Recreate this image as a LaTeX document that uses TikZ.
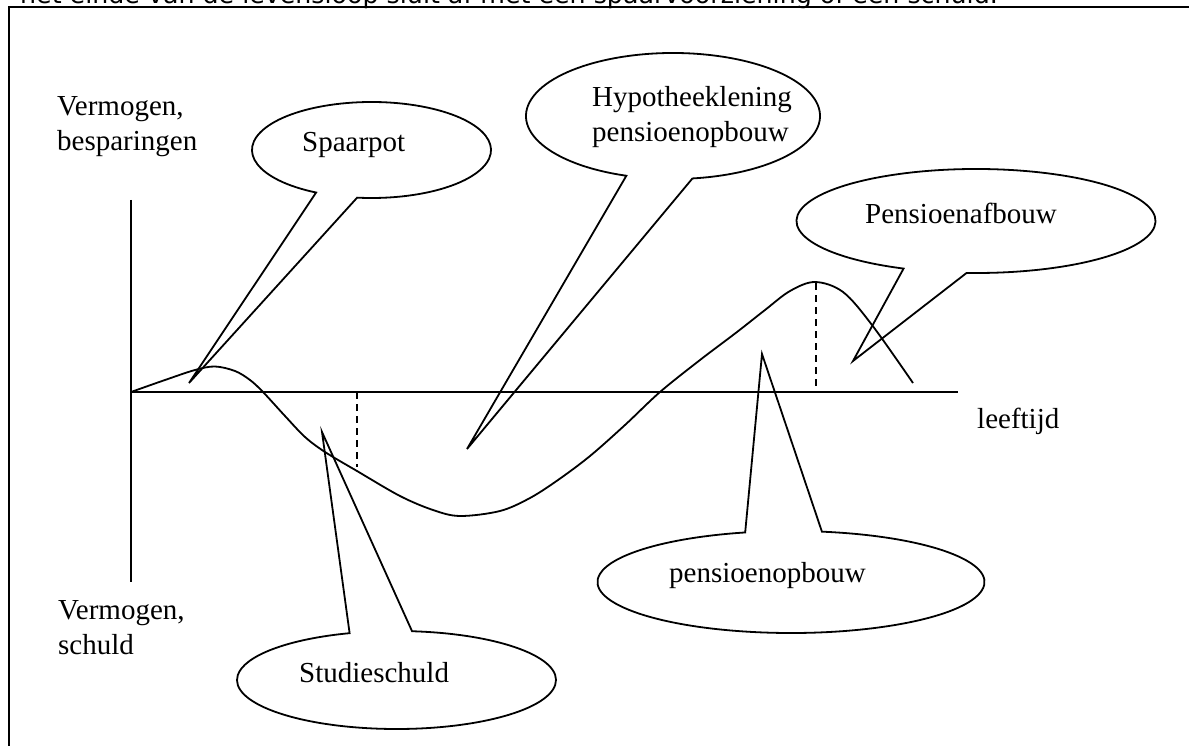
\documentclass[tikz,border=0pt]{standalone}
\usepackage{fontspec}
\setmainfont{Liberation Serif}
\newfontfamily\topfont{DejaVu Sans}
\begin{document}
\begin{tikzpicture}[x=1pt,y=-1pt,
  ln/.style={line width=1.8pt, line join=miter},
  frame/.style={line width=2.4pt},
  dash line/.style={line width=1.8pt, dash pattern=on 7pt off 5pt},
  lbl/.style={anchor=base west, inner sep=0pt, font=\fontsize{29}{35}\selectfont},
  lbl2/.style={lbl, align=left}]
\useasboundingbox (0,0) rectangle (1189,746);
\clip (0,0) rectangle (1189,746);
\fill[white] (0,0) rectangle (1189,746);
% cut-off top text and frame
\node[anchor=base west, inner sep=0pt, font=\topfont\fontsize{25.3}{28}\selectfont] (toptext) at (20,4) {het einde van de levensloop sluit af met een spaarvoorziening of een schuld.};
\draw[frame] (9,760) -- (9,7) -- (1200,7);
% axes
\coordinate (o) at (131,392);
\coordinate (ytop) at (131,200);
\coordinate (ybot) at (131,582);
\coordinate (xend) at (958,392);
\draw[ln] (ytop) -- (ybot);
\draw[ln] (o) -- (xend);
% labels (base anchor = baseline of last line)
\node[lbl2] (vb) at (57,151) {Vermogen,\\besparingen};
\node[lbl2] (vs) at (58,654) {Vermogen,\\schuld};
\node[lbl] (lt) at (977,428) {leeftijd};
% curve
\draw[ln] plot[smooth, tension=0.55] coordinates {(131,392) (165,380) (195,370) (215,366.5) (235,371) (250,380) (263,392) (285,416) (305,437) (325,452) (357,471) (400,496) (433,510) (460,516) (500,511) (530,498) (558,480) (590,456) (625,425) (660,392) (700,360) (737,332) (765,310) (790,291) (815,282) (843,292) (872,325) (913,383)};
% dashed marks
\coordinate (d1a) at (357,392); \coordinate (d1b) at (357,467);
\coordinate (d2a) at (816,283); \coordinate (d2b) at (816,392);
\draw[dash line] (d1a) -- (d1b);
\draw[dash line] (d2a) -- (d2b);
% Spaarpot bubble
\coordinate (spc) at (371.5,150);
\coordinate (sptip) at (189,383);
\draw[ln] (spc) ++(117.6:119.5 and 48) arc[start angle=117.6, end angle=456.9, x radius=119.5, y radius=48] -- (sptip) -- cycle;
\node[lbl] (sp) at (302,152) {Spaarpot};
% Hypotheek bubble
\coordinate (hyc) at (673,116);
\coordinate (hytip) at (467,449);
\draw[ln] (hyc) ++(108.5:147 and 63) arc[start angle=108.5, end angle=442.4, x radius=147, y radius=63] -- (hytip) -- cycle;
\node[lbl2] (hy) at (592,142) {Hypotheeklening\\pensioenopbouw};
% Pensioenafbouw bubble
\coordinate (pac) at (976,221);
\coordinate (patip) at (853,361);
\draw[ln] (pac) ++(113.8:179.5 and 52) arc[start angle=113.8, end angle=453, x radius=179.5, y radius=52] -- (patip) -- cycle;
\node[lbl] (pa) at (865,224) {Pensioenafbouw};
% Studieschuld bubble
\coordinate (stc) at (396.5,680);
\coordinate (sttip) at (322,432);
\draw[ln] (stc) ++(275.6:159.5 and 49) arc[start angle=275.6, end angle=612.9, x radius=159.5, y radius=49] -- (sttip) -- cycle;
\node[lbl] (st) at (299,682) {Studieschuld};
% pensioenopbouw bubble
\coordinate (poc) at (791,582);
\coordinate (potip) at (762,354);
\draw[ln] (poc) ++(279.2:193.5 and 51) arc[start angle=279.2, end angle=616.3, x radius=193.5, y radius=51] -- (potip) -- cycle;
\node[lbl] (po) at (669,582) {pensioenopbouw};
\end{tikzpicture}
\end{document}
